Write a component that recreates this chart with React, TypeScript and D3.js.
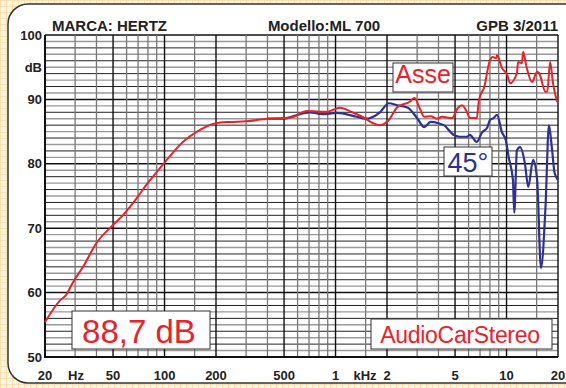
import React, { useEffect, useRef } from "react";
import * as d3 from "d3";

// red = on axis ("Asse"), blue = 45°
const redFreq = [20, 24.5, 26.5, 29, 33.4, 40, 50, 57, 69, 78, 90, 103, 128, 155, 200, 240, 300, 400, 500, 570, 680, 810, 900, 1060, 1250, 1500, 1600, 1820, 2050, 2300, 2700, 2900, 3100, 3300, 3600, 3900, 4200, 4800, 5200, 5500, 5900, 6100, 6700, 6900, 7400, 8000, 8300, 8700, 8800, 9400, 10100, 10500, 11500, 11700, 12300, 12500, 13100, 14100, 15100, 15500, 16900, 17300, 18000, 18700, 19800];
const redDb = [55.4, 58.8, 59.6, 61.5, 64, 67.7, 70.5, 72, 74.7, 76.7, 78.7, 80.6, 83.4, 85, 86.3, 86.5, 86.6, 87, 87.1, 87.3, 88.2, 88.1, 88.1, 88.7, 88, 87, 86.5, 86, 86.8, 88.8, 89.6, 90.2, 88.7, 87.3, 87.4, 87, 87.3, 87.1, 88.7, 89.1, 87.9, 87.1, 87.1, 89.9, 91.9, 96.1, 96.6, 96.4, 96.9, 94.9, 93.8, 92.5, 94.1, 95.8, 95.6, 97.4, 95, 92.7, 94.3, 94.1, 91.2, 91.2, 95.8, 92.5, 89.6];

const blueFreq = [400, 500, 567, 708, 836, 1020, 1330, 1530, 1590, 1820, 2050, 2300, 2650, 3000, 3300, 3600, 4000, 4300, 4900, 5300, 5900, 6100, 6700, 7200, 7700, 8000, 8400, 8800, 9400, 9900, 10300, 10900, 11100, 11500, 12000, 12800, 13400, 14300, 15100, 15900, 16900, 17700, 18400, 19100, 20000];
const blueDb = [87, 87, 87.4, 88, 87.7, 87.9, 87.3, 87, 87.1, 88, 89.4, 89.1, 88.7, 87.1, 85.7, 86.5, 86.3, 86, 84.5, 84.2, 84.2, 84.5, 83.4, 84.9, 85.6, 86.8, 87.1, 87.6, 84.9, 83.7, 81, 77.5, 72.4, 82.1, 82.6, 80.1, 76.4, 80.6, 77.5, 63.8, 73.3, 86, 82.6, 78.6, 77.5];

const gridFreqs = [20, 30, 40, 50, 60, 70, 80, 90, 100, 150, 200, 300, 400, 500, 600, 700, 800, 900, 1000, 1500, 2000, 3000, 4000, 5000, 6000, 7000, 8000, 9000, 10000, 15000, 20000];
const darkFreqs = [20, 50, 100, 200, 500, 1000, 2000, 5000, 10000, 20000];
const xLabels = [
  { f: 20, t: "20" }, { f: 50, t: "50" }, { f: 100, t: "100" }, { f: 200, t: "200" },
  { f: 500, t: "500" }, { f: 1000, t: "1" }, { f: 2000, t: "2" }, { f: 5000, t: "5" },
  { f: 10000, t: "10" }, { f: 20000, t: "20" },
];
const yLabels = [100, 90, 80, 70, 60, 50];

const RED = "#e8222b";
const BLUE = "#2e3192";

const App = () => {
  const ref = useRef(null);

  useEffect(() => {
    const svg = d3.select(ref.current);
    svg.selectAll("*").remove();

    const W = 566, H = 388;
    const left = 45, right = 558, top = 35, bottom = 357;

    // background paper
    const defs = svg.append("defs");
    const pat = defs.append("pattern").attr("id", "paper").attr("width", 6).attr("height", 6).attr("patternUnits", "userSpaceOnUse");
    pat.append("rect").attr("width", 6).attr("height", 6).attr("fill", "#fef5e1");
    pat.append("path").attr("d", "M0 0.5H6M0.5 0V6").attr("stroke", "#f8dca8").attr("stroke-width", 0.8);
    svg.append("rect").attr("width", W).attr("height", H).attr("fill", "url(#paper)");

    svg.append("rect").attr("x", 8).attr("y", 4).attr("width", 590).attr("height", 379).attr("rx", 20)
      .attr("fill", "#fff").attr("stroke", "#333").attr("stroke-width", 1.5);

    const x = d3.scaleLog().domain([20, 20000]).range([left, right]);
    const y = d3.scaleLinear().domain([50, 100]).range([bottom, top]);

    const g = svg.append("g");

    // horizontal grid, every dB
    d3.range(50, 101).forEach((db) => {
      const major = db % 10 === 0;
      const even = db % 2 === 0;
      g.append("line").attr("x1", left).attr("x2", right).attr("y1", y(db)).attr("y2", y(db))
        .attr("stroke", major ? "#111" : even ? "#222" : "#999")
        .attr("stroke-width", major ? 1.5 : even ? 1 : 1.4);
    });

    // vertical grid
    gridFreqs.forEach((f) => {
      const dark = darkFreqs.includes(f);
      g.append("line").attr("x1", x(f)).attr("x2", x(f)).attr("y1", top).attr("y2", bottom)
        .attr("stroke", dark ? "#111" : "#777").attr("stroke-width", dark ? 1.4 : 1.3);
    });

    // frame
    g.append("path").attr("d", `M${left},${top}V${bottom}H${right}`).attr("fill", "none").attr("stroke", "#111").attr("stroke-width", 2);

    const line = d3.line().x((d) => x(d[0])).y((d) => y(d[1])).curveMonotoneX;
    const mk = d3.line().x((d) => x(d[0])).y((d) => y(d[1])).curve(d3.curveMonotoneX);

    g.append("path").datum(blueFreq.map((f, i) => [f, blueDb[i]])).attr("fill", "none").attr("stroke", BLUE)
      .attr("stroke-width", 2.2).attr("stroke-linejoin", "round").attr("d", mk);
    g.append("path").datum(redFreq.map((f, i) => [f, redDb[i]])).attr("fill", "none").attr("stroke", RED)
      .attr("stroke-width", 2).attr("stroke-linejoin", "round").attr("d", mk);

    const font = "Liberation Sans, Arial, sans-serif";

    // axis labels
    yLabels.forEach((v) => {
      svg.append("text").attr("x", 42).attr("y", y(v)).attr("dy", "0.36em").attr("text-anchor", "end")
        .attr("font-family", font).attr("font-weight", "bold").attr("font-size", 13).attr("fill", "#222").text(v);
    });
    svg.append("text").attr("x", 42).attr("y", y(95)).attr("dy", "0.36em").attr("text-anchor", "end")
      .attr("font-family", font).attr("font-weight", "bold").attr("font-size", 13).attr("fill", "#222").text("dB");

    xLabels.forEach((l) => {
      svg.append("text").attr("x", x(l.f)).attr("y", 375).attr("dy", "0.36em").attr("text-anchor", "middle")
        .attr("font-family", font).attr("font-weight", "bold").attr("font-size", 13).attr("fill", "#222").text(l.t);
    });
    [["Hz", 76], ["kHz", 365]].forEach(([t, px]) => {
      svg.append("text").attr("x", px).attr("y", 375).attr("dy", "0.36em").attr("text-anchor", "middle")
        .attr("font-family", font).attr("font-weight", "bold").attr("font-size", 13).attr("fill", "#222").text(t);
    });

    // header
    const header = [["MARCA: HERTZ", 52, "start"], ["Modello:ML 700", 324, "middle"], ["GPB 3/2011", 558, "end"]];
    header.forEach(([t, px, anchor]) => {
      svg.append("text").attr("x", px).attr("y", 31).attr("text-anchor", anchor)
        .attr("font-family", font).attr("font-weight", "bold").attr("font-size", 15).attr("fill", "#222").text(t);
    });

    // boxed labels
    const box = (x0, y0, w, h, text, size, color, cx, base, ls = 0) => {
      svg.append("rect").attr("x", x0).attr("y", y0).attr("width", w).attr("height", h)
        .attr("fill", "#fff").attr("stroke", "#333").attr("stroke-width", 1);
      svg.append("text").attr("x", cx).attr("y", base).attr("text-anchor", "middle")
        .attr("font-family", font).attr("font-size", size).attr("letter-spacing", ls).attr("fill", color).text(text);
    };
    box(72, 311, 138, 38, "88,7 dB", 33, RED, 139, 343);
    box(371, 319, 181, 30, "AudioCarStereo", 23, RED, 460, 343, -0.3);
    box(393, 63, 60, 29, "Asse", 25, RED, 423, 83);
    box(444, 147, 48, 29, "45°", 27, BLUE, 468, 172);
  }, []);

  return <svg ref={ref} width={566} height={388} style={{ position: "absolute", left: 0, top: 0 }}></svg>;
};

export default App;
